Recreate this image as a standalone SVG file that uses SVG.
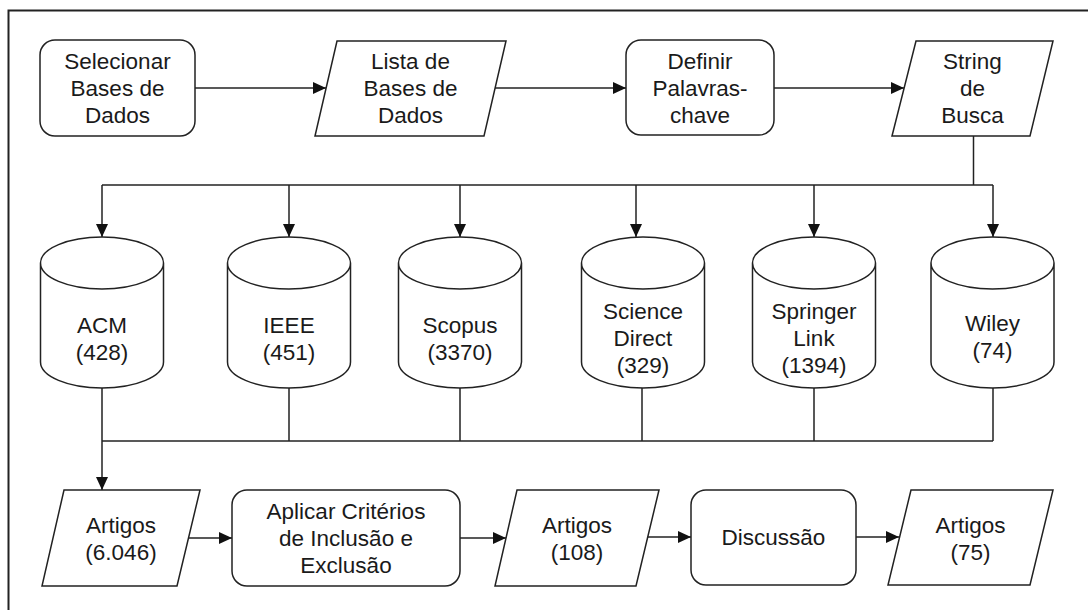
<svg xmlns="http://www.w3.org/2000/svg" xmlns:xlink="http://www.w3.org/1999/xlink" width="1088" height="610" viewBox="0 0 1088 610">
<style>
.s{fill:#ffffff;stroke:#222222;stroke-width:1.5}
.c{fill:none;stroke:#222222;stroke-width:1.5}
.a{fill:none;stroke:#222222;stroke-width:1.5;marker-end:url(#arr)}
.t{font-family:"Liberation Sans",Arial,Helvetica,sans-serif;font-size:22.5px;fill:#1a1a1a;text-anchor:middle}
</style>
<defs>
<marker id="arr" markerUnits="userSpaceOnUse" markerWidth="14" markerHeight="12" refX="13" refY="6" orient="auto">
<path d="M0,0 L13,6 L0,12 Z" fill="#111111"/>
</marker>
<path id="cyl" d="M-61.5,263 A61.5,26 0 0 1 61.5,263 L61.5,362 A61.5,26 0 0 1 -61.5,362 Z M-61.5,263 A61.5,26 0 0 0 61.5,263"/>
</defs>
<rect width="1088" height="610" fill="#ffffff"/>
<rect x="8.5" y="10.5" width="1200" height="700" fill="none" stroke="#222222" stroke-width="2"/>

<g id="connectors">
<path class="a" d="M195,88 H326"/>
<path class="a" d="M495,88 H626"/>
<path class="a" d="M774,88 H904"/>
<path class="c" d="M973.5,136 V185"/>
<path class="c" d="M102,185 H993"/>
<path class="a" d="M102,185 V237"/>
<path class="a" d="M289,185 V237"/>
<path class="a" d="M460,185 V237"/>
<path class="a" d="M636,185 V237"/>
<path class="a" d="M814,185 V237"/>
<path class="a" d="M993,185 V237"/>
<path class="c" d="M102,388 V441 M289,388 V441 M460,388 V441 M642,388 V441 M814,388 V441 M993,388 V441"/>
<path class="c" d="M102,441 H993"/>
<path class="a" d="M102,441 V490"/>
<path class="a" d="M189,538 H232"/>
<path class="a" d="M460,538 H506"/>
<path class="a" d="M647,537 H691"/>
<path class="a" d="M856,537 H899"/>
</g>

<g id="n1">
<rect class="s" x="40" y="40" width="155" height="96" rx="15"/>
<text class="t" x="117.5" y="69">Selecionar</text>
<text class="t" x="117.5" y="96">Bases de</text>
<text class="t" x="117.5" y="123">Dados</text>
</g>
<g id="n2">
<polygon class="s" points="337,41 506,41 484,136 315,136"/>
<text class="t" x="410.5" y="69">Lista de</text>
<text class="t" x="410.5" y="96">Bases de</text>
<text class="t" x="410.5" y="123">Dados</text>
</g>
<g id="n3">
<rect class="s" x="626" y="40" width="148" height="95" rx="15"/>
<text class="t" x="700" y="69">Definir</text>
<text class="t" x="700" y="96">Palavras-</text>
<text class="t" x="700" y="123">chave</text>
</g>
<g id="n4">
<polygon class="s" points="916,41 1053,41 1030,136 892,136"/>
<text class="t" x="972.5" y="69">String</text>
<text class="t" x="972.5" y="96">de</text>
<text class="t" x="972.5" y="123">Busca</text>
</g>

<g id="acm">
<use xlink:href="#cyl" href="#cyl" class="s" x="102"/>
<text class="t" x="102" y="333">ACM</text>
<text class="t" x="102" y="360">(428)</text>
</g>
<g id="ieee">
<use xlink:href="#cyl" href="#cyl" class="s" x="289"/>
<text class="t" x="289" y="333">IEEE</text>
<text class="t" x="289" y="360">(451)</text>
</g>
<g id="scopus">
<use xlink:href="#cyl" href="#cyl" class="s" x="460"/>
<text class="t" x="460" y="333">Scopus</text>
<text class="t" x="460" y="360">(3370)</text>
</g>
<g id="sciencedirect">
<use xlink:href="#cyl" href="#cyl" class="s" x="643"/>
<text class="t" x="643" y="319">Science</text>
<text class="t" x="643" y="346">Direct</text>
<text class="t" x="643" y="373">(329)</text>
</g>
<g id="springer">
<use xlink:href="#cyl" href="#cyl" class="s" x="814"/>
<text class="t" x="814" y="319">Springer</text>
<text class="t" x="814" y="346">Link</text>
<text class="t" x="814" y="373">(1394)</text>
</g>
<g id="wiley">
<use xlink:href="#cyl" href="#cyl" class="s" x="992.5"/>
<text class="t" x="992.5" y="331">Wiley</text>
<text class="t" x="992.5" y="358">(74)</text>
</g>

<g id="b1">
<polygon class="s" points="64,490 200,490 177,586 42,586"/>
<text class="t" x="121" y="533">Artigos</text>
<text class="t" x="121" y="560">(6.046)</text>
</g>
<g id="b2">
<rect class="s" x="232" y="490" width="228" height="96" rx="15"/>
<text class="t" x="346" y="519">Aplicar Critérios</text>
<text class="t" x="346" y="546">de Inclusão e</text>
<text class="t" x="346" y="573">Exclusão</text>
</g>
<g id="b3">
<polygon class="s" points="517,490 659,490 636,586 495,586"/>
<text class="t" x="577" y="533">Artigos</text>
<text class="t" x="577" y="560">(108)</text>
</g>
<g id="b4">
<rect class="s" x="691" y="490" width="165" height="95" rx="15"/>
<text class="t" x="773.5" y="545">Discussão</text>
</g>
<g id="b5">
<polygon class="s" points="911,490 1053,490 1030,585 888,585"/>
<text class="t" x="970.5" y="533">Artigos</text>
<text class="t" x="970.5" y="560">(75)</text>
</g>
</svg>
